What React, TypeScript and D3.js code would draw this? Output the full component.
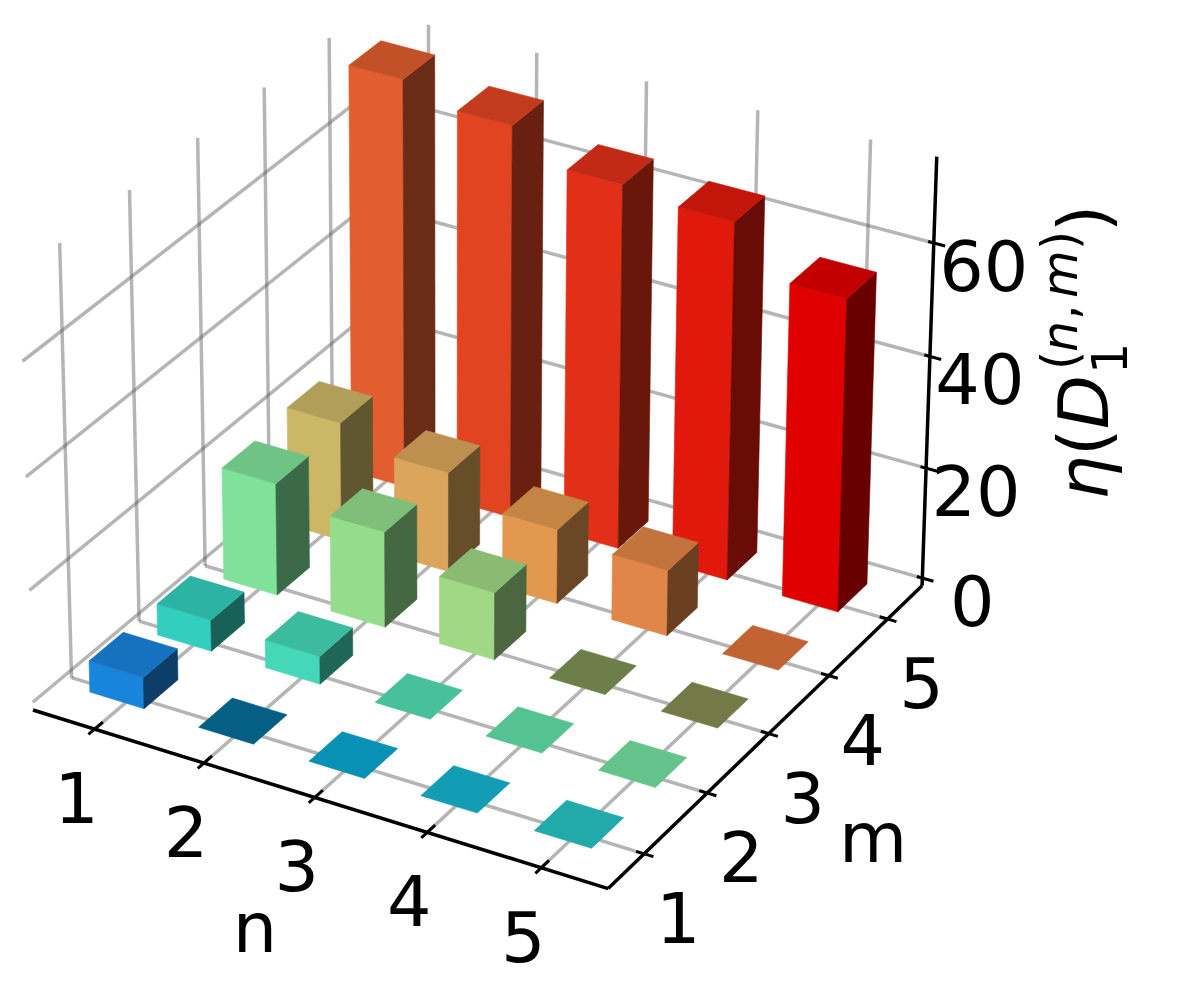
import React, { useEffect, useRef, ReactElement } from 'react'
import * as d3 from 'd3'

const nValues = [1, 2, 3, 4, 5]
const mValues = [1, 2, 3, 4, 5]
const zTicks = [0, 20, 40, 60]

// bar heights, one list per m row, in n order
const heightsM1 = [6.2, 0.3, 0.3, 0.3, 0.3]
const heightsM2 = [6.2, 5.6, 0.3, 0.3, 0.3]
const heightsM3 = [20.8, 17.8, 12.7, 0.3, 0.3]
const heightsM4 = [22, 18.6, 14, 12.4, 0.3]
const heightsM5 = [74, 71, 65.8, 64.5, 56.4]
const heights = [heightsM1, heightsM2, heightsM3, heightsM4, heightsM5]

const colorsM1 = ['#1984dc', '#066e9a', '#09a8d0', '#16b6d0', '#27c4c4']
const colorsM2 = ['#33cfbe', '#45d8b8', '#53dfb3', '#61e0a8', '#74e3a1']
const colorsM3 = ['#80e29a', '#93dd8c', '#a1d885', '#7e9257', '#868c53']
const colorsM4 = ['#ccb767', '#dba65c', '#e2994f', '#e28548', '#e0723c']
const colorsM5 = ['#e25e2e', '#e24422', '#e23018', '#e1190c', '#e00000']
const colors = [colorsM1, colorsM2, colorsM3, colorsM4, colorsM5]

const barHalf = 0.25
const barShift = 0.012
const barBase = 0.6
const xDomain = [0.43, 5.58]
const yDomain = [0.44, 5.6]
const zDomain = [-1.4, 75]

// where corners of the unit box land on the page, used to fit the camera
const anchors: [number, number, number, number, number][] = [
  [0, 0, 0, 32, 707],
  [1, 0, 0, 609, 890],
  [1, 1, 0, 922, 584],
  [0, 1, 0, 370, 431],
  [0, 0, 1, 20, 275],
  [1, 1, 1, 936, 157],
  [0, 1, 1, 368, 7]
]

function solve(a: number[][], b: number[]): number[] {
  const n = b.length
  const m = a.map((row, i) => [...row, b[i]])
  for (let c = 0; c < n; c++) {
    let piv = c
    for (let r = c + 1; r < n; r++) if (Math.abs(m[r][c]) > Math.abs(m[piv][c])) piv = r
    ;[m[c], m[piv]] = [m[piv], m[c]]
    for (let r = 0; r < n; r++) {
      if (r === c) continue
      const f = m[r][c] / m[c][c]
      for (let k = c; k <= n; k++) m[r][k] -= f * m[c][k]
    }
  }
  return m.map((row, i) => row[n] / row[i])
}

// least squares fit of a 3x4 projection matrix
function fitCamera(): number[] {
  const rows: number[][] = []
  const rhs: number[] = []
  anchors.forEach(([X, Y, Z, u, v]) => {
    rows.push([X, Y, Z, 1, 0, 0, 0, 0, -u * X, -u * Y, -u * Z])
    rhs.push(u)
    rows.push([0, 0, 0, 0, X, Y, Z, 1, -v * X, -v * Y, -v * Z])
    rhs.push(v)
  })
  const ata = d3.range(11).map(i => d3.range(11).map(j => d3.sum(rows, r => r[i] * r[j])))
  const atb = d3.range(11).map(i => d3.sum(rows, (r, k) => r[i] * rhs[k]))
  return solve(ata, atb)
}

const App = (): ReactElement => {
  const ref = useRef<SVGSVGElement>(null)

  useEffect(() => {
    const svg = d3.select(ref.current)
    svg.selectAll('*').remove()

    const xs = d3.scaleLinear().domain(xDomain).range([0, 1])
    const ys = d3.scaleLinear().domain(yDomain).range([0, 1])
    const zs = d3.scaleLinear().domain(zDomain).range([0, 1])
    const p = fitCamera()

    const project = (x: number, y: number, z: number): [number, number] => {
      const X = xs(x), Y = ys(y), Z = zs(z)
      const w = p[8] * X + p[9] * Y + p[10] * Z + 1
      return [
        (p[0] * X + p[1] * Y + p[2] * Z + p[3]) / w,
        (p[4] * X + p[5] * Y + p[6] * Z + p[7]) / w
      ]
    }

    const [x0, x1] = xDomain
    const [y0, y1] = yDomain
    const [z0, z1] = zDomain
    const line = d3.line()
    const poly = d3.line().curve(d3.curveLinearClosed)

    const grid = svg.append('g').attr('fill', 'none').attr('stroke', 'rgb(90,90,90)')
      .attr('stroke-opacity', 0.45).attr('stroke-width', 3.5)
    const seg = (a: [number, number, number], b: [number, number, number]) => {
      grid.append('path').attr('d', line([project(...a), project(...b)]))
    }
    nValues.forEach(n => {
      seg([n, y0, z0], [n, y1, z0])
      seg([n, y1, z0], [n, y1, z1])
    })
    mValues.forEach(m => {
      seg([x0, m, z0], [x1, m, z0])
      seg([x0, m, z0], [x0, m, z1])
    })
    zTicks.forEach(z => {
      seg([x0, y0, z], [x0, y1, z])
      seg([x0, y1, z], [x1, y1, z])
    })

    const axes = svg.append('g').attr('fill', 'none').attr('stroke', '#000')
    const axisSeg = (a: [number, number, number], b: [number, number, number], w: number) => {
      axes.append('path').attr('stroke-width', w).attr('d', line([project(...a), project(...b)]))
    }
    axisSeg([x0, y0, z0], [x1, y0, z0], 3.5)
    axisSeg([x1, y0, z0], [x1, y1, z0], 3.5)
    axisSeg([x1, y1, z0], [x1, y1, z1], 3.5)
    nValues.forEach(n => axisSeg([n, y0 - 0.09, z0], [n, y0 + 0.12, z0], 3))
    mValues.forEach(m => axisSeg([x1 - 0.07, m, z0], [x1 + 0.08, m, z0], 3))
    zTicks.forEach(z => axisSeg([x1 - 0.05, y1, z], [x1 + 0.1, y1, z], 3))

    // far rows first, so nearer bars cover them
    const bars = svg.append('g')
    const face = (pts: [number, number, number][], fill: string) => {
      bars.append('path')
        .attr('d', poly(pts.map(q => project(...q))))
        .attr('fill', fill).attr('stroke', fill).attr('stroke-width', 0.6)
    }
    const shade = (c: string, k: number) => {
      const r = d3.rgb(c)
      return d3.rgb(r.r * k, r.g * k, r.b * k).formatHex()
    }
    d3.range(mValues.length - 1, -1, -1).forEach(j => {
      nValues.forEach((n, i) => {
        const m = mValues[j]
        const h = heights[j][i]
        const c = colors[j][i]
        const a = n - barHalf + barShift, b = n + barHalf + barShift
        const f = m - barHalf, g = m + barHalf
        if (h > 1) {
          face([[a, f, barBase], [b, f, barBase], [b, f, h], [a, f, h]], c)
          face([[b, f, barBase], [b, g, barBase], [b, g, h], [b, f, h]], shade(c, 0.47))
        }
        face([[a, f, h], [b, f, h], [b, g, h], [a, g, h]], shade(c, 0.865))
      })
    })

    const labels = svg.append('g')
      .attr('font-family', '"DejaVu Sans"').attr('font-size', 70)
      .attr('text-anchor', 'middle').attr('dominant-baseline', 'central').attr('fill', '#000')
    const label = (pos: [number, number], t: string | number) => {
      labels.append('text').attr('x', pos[0]).attr('y', pos[1]).text(t)
    }
    nValues.forEach(n => {
      const q = project(n, y0, z0)
      label([q[0] - 18, q[1] + 70], n)
    })
    mValues.forEach(m => {
      const q = project(x1, m, z0)
      label([q[0] + 34, q[1] + 65], m)
    })
    zTicks.forEach(z => {
      const q = project(x1, y1, z)
      label([q[0] + 50, q[1] + 24], z)
    })
    label([255, 928], 'n')
    label([873, 838], 'm')

    // z axis title, pieced together like mathtext
    const title = svg.append('g').attr('transform', 'translate(1108,500) rotate(-90)')
      .attr('font-family', '"DejaVu Sans"').attr('fill', '#000')
    const piece = (x: number, y: number, size: number, t: string, italic: boolean) => {
      title.append('text').attr('x', x).attr('y', y).attr('font-size', size)
        .attr('font-style', italic ? 'italic' : 'normal').text(t)
    }
    piece(0, 0, 70, 'η', true)
    piece(44, 0, 70, '(', false)
    piece(71, 0, 70, 'D', true)
    piece(126, 19, 49, '1', false)
    piece(130, -31, 49, '(', false)
    piece(148, -31, 49, 'n', true)
    piece(180, -31, 49, ',', false)
    piece(202, -31, 49, 'm', true)
    piece(250, -31, 49, ')', false)
    piece(268, 0, 70, ')', false)
  }, [])

  return <svg ref={ref} width={1179} height={991} style={{ position: 'absolute', left: 0, top: 0, background: '#fff' }} />
}

export default App
